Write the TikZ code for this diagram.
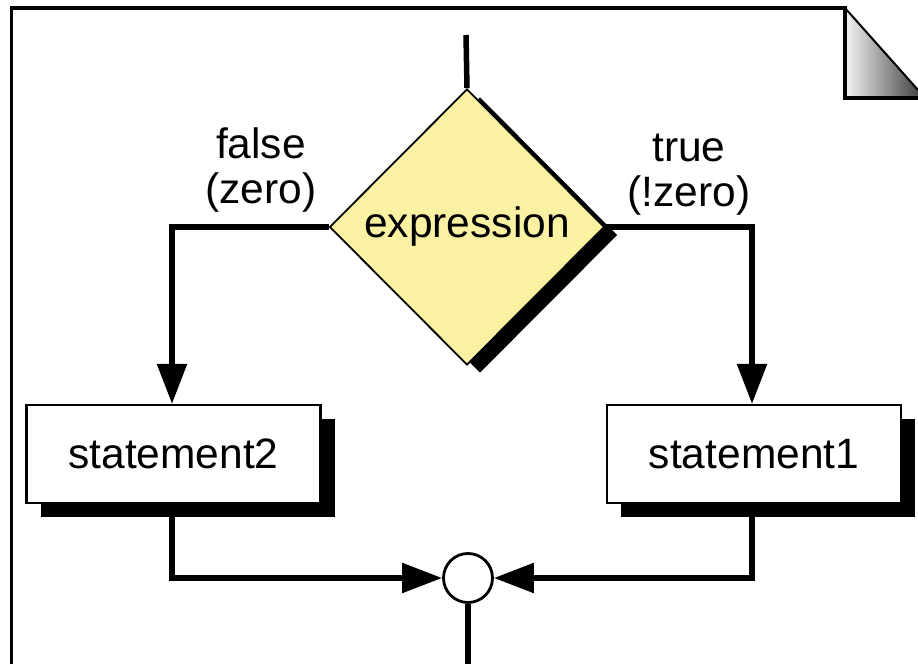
\documentclass[tikz,border=0pt]{standalone}
\usepackage{fontspec}
\setmainfont{Liberation Sans}
\usetikzlibrary{shapes.geometric,arrows.meta,shadows}
\definecolor{diayellow}{RGB}{251,241,162}
\begin{document}
\begin{tikzpicture}[x=1pt,y=1pt,
  txt/.style={font=\fontsize{42.5}{45}\selectfont},
  conn/.style={line width=5.5pt},
  arr/.style={conn,-{Triangle[length=40pt,width=29pt]}},
  decision/.style={diamond, draw, line width=1.8pt, fill=diayellow,
    minimum width=275pt, minimum height=276pt, inner sep=0pt, txt,
    general shadow={fill=black, shadow xshift=13pt, shadow yshift=-8pt}},
  stmt/.style={rectangle, draw, line width=2.2pt, fill=white,
    minimum width=294pt, minimum height=98pt, txt,
    general shadow={fill=black, shadow xshift=14pt, shadow yshift=-14pt}},
  junction/.style={circle, draw, line width=2.8pt, fill=white,
    minimum size=49pt, inner sep=0pt},
  lbl/.style={txt, align=center}]
\useasboundingbox (0,0) rectangle (918,664);
% page with folded corner
\draw[line width=3.5pt] (11.5,0) -- (11.5,656) -- (845,656);
\shade[left color=gray!8, right color=black!72] (845,656) -- (918,574) -- (918,566) -- (845,566) -- cycle;
\draw[line width=3.5pt] (845,657.5) -- (845,566) -- (918,566);
\draw[line width=2pt] (845,656) -- (918,574);
% nodes
\node[decision] (expr) at (467,437) {expression};
\node[stmt] (s2) at (173.5,210) {statement2};
\node[stmt] (s1) at (754,210) {statement1};
\node[junction] (j) at (468,86) {};
\node[lbl] (lf) at (261,494) {false\\(zero)};
\node[lbl] (lt) at (689,489) {true\\(!zero)};
\coordinate (top) at (466,629);
\coordinate (lc) at (172,437);
\coordinate (rc) at (752,437);
\coordinate (bot) at (468,0);
% connectors
\draw[conn] (top) -- (expr.north);
\draw[arr] (expr.west) -- (lc) -- (lc |- s2.north);
\draw[arr] (expr.east) -- (rc) -- (rc |- s1.north);
\draw[arr] (lc |- s2.south) |- (j.west);
\draw[arr] (rc |- s1.south) |- (j.east);
\draw[conn] (j.south) -- (bot);
\end{tikzpicture}
\end{document}
